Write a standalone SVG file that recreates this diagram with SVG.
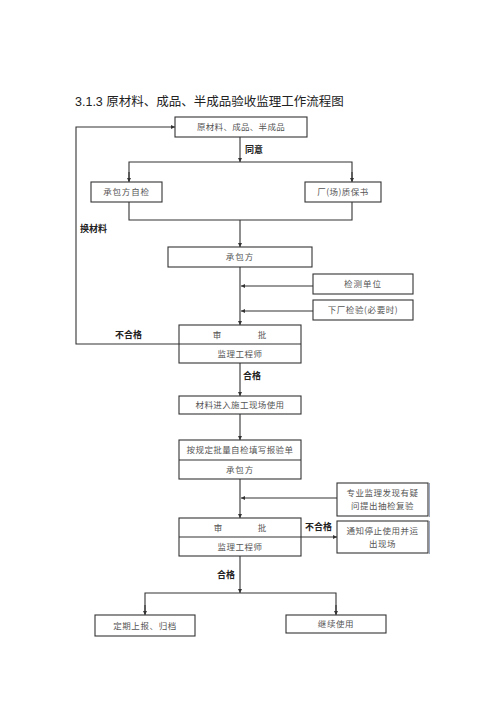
<svg xmlns="http://www.w3.org/2000/svg" width="500" height="707" viewBox="0 0 500 707">
<style>
.box{fill:#fff;stroke:#333;stroke-width:1.1}
.div{stroke:#333;stroke-width:1.1}
.t{font-family:"Noto Sans CJK SC","Liberation Serif",serif;font-size:8.5px;fill:#555;text-anchor:middle}
.lb{font-family:"Noto Sans CJK SC","Liberation Sans",sans-serif;font-size:9px;font-weight:bold;fill:#222}
.ln{fill:none;stroke:#333;stroke-width:1.1}
.ttl{font-family:"Liberation Sans","Noto Sans CJK SC",sans-serif;font-size:12.5px;fill:#222}
</style>
<defs>
<marker id="ah" viewBox="0 0 10 10" refX="10" refY="5" markerWidth="5" markerHeight="4" orient="auto" markerUnits="userSpaceOnUse">
<path d="M0,0 L10,5 L0,10 z" fill="#333"/>
</marker>
</defs>
<rect width="500" height="707" fill="#fff"/>
<text class="ttl" x="75" y="106">3.1.3 原材料、成品、半成品验收监理工作流程图</text>

<g id="connectors">
<polyline class="ln" points="179,344 76,344 76,127 175,127" marker-end="url(#ah)"/>
<line class="ln" x1="240" y1="137" x2="240" y2="162" marker-end="url(#ah)"/>
<polyline class="ln" points="129,181 129,162 352,162 352,181"/>
<line class="ln" x1="129" y1="172" x2="129" y2="182" marker-end="url(#ah)"/>
<line class="ln" x1="352" y1="172" x2="352" y2="182" marker-end="url(#ah)"/>
<polyline class="ln" points="129,202 129,220 352,220 352,202"/>
<line class="ln" x1="240" y1="220" x2="240" y2="247" marker-end="url(#ah)"/>
<line class="ln" x1="240" y1="267" x2="240" y2="325" marker-end="url(#ah)"/>
<line class="ln" x1="313" y1="286" x2="241" y2="286" marker-end="url(#ah)"/>
<line class="ln" x1="313" y1="311" x2="241" y2="311" marker-end="url(#ah)"/>
<line class="ln" x1="240" y1="363" x2="240" y2="396" marker-end="url(#ah)"/>
<line class="ln" x1="240" y1="414" x2="240" y2="440" marker-end="url(#ah)"/>
<line class="ln" x1="240" y1="479" x2="240" y2="518" marker-end="url(#ah)"/>
<line class="ln" x1="337" y1="498" x2="241" y2="498" marker-end="url(#ah)"/>
<line class="ln" x1="301" y1="537" x2="337" y2="537" marker-end="url(#ah)"/>
<line class="ln" x1="240" y1="556" x2="240" y2="593" marker-end="url(#ah)"/>
<polyline class="ln" points="145,614 145,593 336,593 336,614"/>
<line class="ln" x1="145" y1="605" x2="145" y2="615" marker-end="url(#ah)"/>
<line class="ln" x1="336" y1="605" x2="336" y2="615" marker-end="url(#ah)"/>
<text class="lb" x="245" y="153">同意</text>
<text class="lb" x="80" y="232">换材料</text>
<text class="lb" x="115" y="338">不合格</text>
<text class="lb" x="243" y="379">合格</text>
<text class="lb" x="305" y="530">不合格</text>
<text class="lb" x="217" y="578">合格</text>
</g>

<g id="n1"><rect class="box" x="175" y="117" width="132" height="20"/><text class="t" x="241" y="130" letter-spacing="0.3">原材料、成品、半成品</text></g>
<g id="n2"><rect class="box" x="91" y="182" width="71" height="20"/><text class="t" x="126.5" y="195" letter-spacing="0.8">承包方自检</text></g>
<g id="n3"><rect class="box" x="305" y="182" width="76" height="20"/><text class="t" x="343" y="195" letter-spacing="0.5">厂(场)质保书</text></g>
<g id="n4"><rect class="box" x="168" y="247" width="144" height="20"/><text class="t" x="240" y="260" letter-spacing="1">承包方</text></g>
<g id="n5"><rect class="box" x="313" y="274" width="100" height="20"/><text class="t" x="363" y="287" letter-spacing="1">检测单位</text></g>
<g id="n6"><rect class="box" x="313" y="300" width="100" height="20"/><text class="t" x="363" y="313" letter-spacing="0.6">下厂检验(必要时)</text></g>
<g id="n7"><rect class="box" x="179" y="325" width="122" height="38"/><line class="div" x1="179" y1="344" x2="301" y2="344"/><text class="t" x="217" y="337.5">审</text><text class="t" x="262" y="337.5">批</text><text class="t" x="240" y="357" letter-spacing="0.5">监理工程师</text></g>
<g id="n8"><rect class="box" x="179" y="396" width="122" height="18"/><text class="t" x="240" y="408" letter-spacing="0.4">材料进入施工现场使用</text></g>
<g id="n9"><rect class="box" x="179" y="440" width="122" height="39"/><line class="div" x1="179" y1="460" x2="301" y2="460"/><text class="t" x="240" y="453" letter-spacing="0.4">按规定批量自检填写报验单</text><text class="t" x="240" y="472.5" letter-spacing="0.8">承包方</text></g>
<g id="n10"><rect class="box" x="337" y="483" width="91" height="33"/><line x1="429.5" y1="483" x2="429.5" y2="517" stroke="#9aa6bd" stroke-width="1"/><text class="t" x="382.5" y="496" letter-spacing="0.5">专业监理发现有疑</text><text class="t" x="382.5" y="509" letter-spacing="0.5">问提出抽检复验</text></g>
<g id="n11"><rect class="box" x="179" y="518" width="122" height="38"/><line class="div" x1="179" y1="537" x2="301" y2="537"/><text class="t" x="218" y="530.5">审</text><text class="t" x="262" y="530.5">批</text><text class="t" x="240" y="550" letter-spacing="0.5">监理工程师</text></g>
<g id="n12"><rect class="box" x="337" y="521" width="91" height="32"/><line x1="429.5" y1="521" x2="429.5" y2="554" stroke="#9aa6bd" stroke-width="1"/><text class="t" x="382.5" y="534" letter-spacing="0.5">通知停止使用并运</text><text class="t" x="382.5" y="547" letter-spacing="0.5">出现场</text></g>
<g id="n13"><rect class="box" x="95" y="615" width="100" height="21"/><text class="t" x="145" y="628.5" letter-spacing="0.6">定期上报、归档</text></g>
<g id="n14"><rect class="box" x="286" y="615" width="100" height="18"/><text class="t" x="336" y="627" letter-spacing="0.6">继续使用</text></g>
</svg>
